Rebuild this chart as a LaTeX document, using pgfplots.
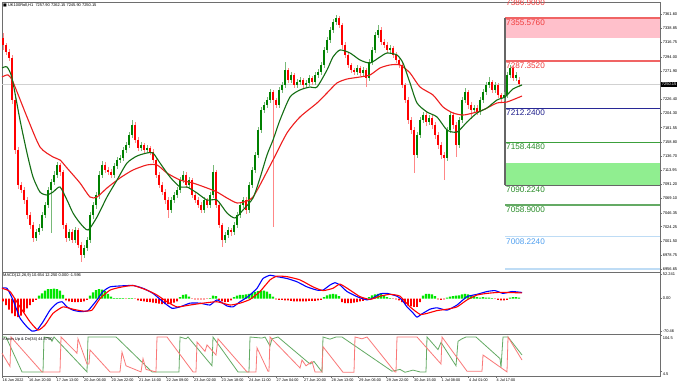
\documentclass[border=0pt]{standalone}
\usepackage{fontspec}
\setmainfont{Liberation Sans}
\newfontfamily\dejavu{DejaVu Sans}
\usepackage{pgfplots}
\pgfplotsset{compat=1.18}
\usepackage{pgfplotstable}

\definecolor{bullG}{RGB}{0,128,0}
\definecolor{bearR}{RGB}{255,0,0}
\definecolor{wickG}{RGB}{120,185,120}
\definecolor{wickR}{RGB}{255,135,135}
\definecolor{maG}{RGB}{20,110,20}
\definecolor{maR}{RGB}{238,30,30}
\definecolor{lvlRed}{RGB}{240,100,100}
\definecolor{lvlPink}{RGB}{255,192,203}
\definecolor{lvlNavy}{RGB}{40,40,150}
\definecolor{lvlGreen}{RGB}{60,160,60}
\definecolor{lvlLGreen}{RGB}{144,238,144}
\definecolor{lvlGreenB}{RGB}{100,170,100}
\definecolor{lvlBlue}{RGB}{190,220,245}
\definecolor{txtRed}{RGB}{240,60,60}
\definecolor{txtNavy}{RGB}{30,30,140}
\definecolor{txtGreen}{RGB}{40,140,40}
\definecolor{txtBlue}{RGB}{80,160,240}
\definecolor{frameC}{RGB}{110,110,110}
\definecolor{histG}{RGB}{0,230,0}
\definecolor{macdB}{RGB}{0,0,255}
\definecolor{aroonG}{RGB}{100,170,100}
\definecolor{aroonR}{RGB}{250,120,120}

\pgfplotstableread{
x o h l c
3 7324.0 7331.9 7305.0 7312.9
6 7312.9 7316.0 7296.5 7301.7
9 7301.7 7306.2 7287.0 7292.2
12 7292.2 7297.5 7220.0 7225.5
15 7225.5 7231.0 7140.0 7146.1
18 7146.1 7150.2 7085.0 7090.5
21 7090.5 7096.0 7077.0 7082.5
24 7082.5 7088.0 7060.0 7066.6
27 7066.6 7072.0 7037.0 7042.8
30 7042.8 7048.0 7021.0 7027.0
33 7027.0 7031.0 6999.9 7006.3
36 7006.3 7021.0 7001.0 7015.8
39 7015.8 7028.0 7011.0 7022.2
42 7022.2 7047.0 7018.0 7042.9
45 7042.9 7064.0 7038.0 7058.7
48 7058.7 7088.0 7054.0 7082.5
51 7082.5 7100.0 7014.2 7095.2
54 7095.2 7112.0 7090.0 7106.4
57 7106.4 7127.0 7101.0 7122.3
60 7122.3 7126.0 7105.0 7111.1
63 7111.1 7115.0 7021.0 7027.0
66 7027.0 7031.0 7000.0 7006.3
69 7006.3 7021.0 7001.0 7015.8
72 7015.8 7020.0 6998.0 7003.1
75 7003.1 7024.0 6998.0 7019.0
78 7019.0 7023.0 6990.0 6995.2
81 6995.2 7000.0 6968.2 6979.3
84 6979.3 6995.0 6974.0 6990.4
87 6990.4 7008.0 6985.0 7003.1
90 7003.1 7048.0 6998.0 7042.9
93 7042.9 7064.0 7037.0 7058.7
96 7058.7 7080.0 7053.0 7074.6
99 7074.6 7112.0 7069.0 7106.4
102 7106.4 7128.0 7101.0 7122.3
105 7122.3 7127.0 7109.0 7114.3
108 7114.3 7119.0 7106.0 7111.1
111 7111.1 7116.0 7101.0 7106.4
114 7106.4 7126.0 7102.0 7120.7
117 7120.7 7135.0 7116.0 7130.2
120 7130.2 7138.0 7126.0 7133.4
123 7133.4 7151.0 7129.0 7146.1
126 7146.1 7159.0 7141.0 7154.0
129 7154.0 7175.0 7149.0 7169.9
132 7169.9 7193.7 7165.0 7185.8
135 7185.8 7190.0 7157.0 7161.9
138 7161.9 7166.0 7144.0 7149.2
141 7149.2 7159.0 7145.0 7154.0
144 7154.0 7158.0 7141.0 7146.1
147 7146.1 7154.0 7142.0 7149.2
150 7149.2 7153.0 7138.0 7142.9
153 7142.9 7147.0 7125.0 7130.2
156 7130.2 7134.0 7101.0 7106.4
159 7106.4 7111.0 7085.0 7090.5
162 7090.5 7095.0 7074.0 7079.3
165 7079.3 7084.0 7061.0 7066.6
168 7066.6 7071.0 7038.1 7050.8
171 7050.8 7071.0 7046.0 7066.6
174 7066.6 7079.0 7062.0 7074.6
177 7074.6 7087.0 7070.0 7082.5
180 7082.5 7103.0 7078.0 7098.4
183 7098.4 7112.0 7094.0 7106.4
186 7106.4 7111.0 7085.0 7090.5
189 7090.5 7103.0 7086.0 7098.4
192 7098.4 7102.0 7070.0 7074.6
195 7074.6 7079.0 7062.0 7066.6
198 7066.6 7071.0 7054.0 7058.7
201 7058.7 7063.0 7046.0 7050.8
204 7050.8 7071.0 7046.0 7066.6
207 7066.6 7070.0 7054.0 7058.7
210 7058.7 7079.0 7054.0 7074.6
213 7074.6 7122.3 7070.0 7111.1
216 7111.1 7115.0 7054.0 7058.7
219 7058.7 7063.0 7022.0 7027.0
222 7027.0 7031.0 6992.0 7003.1
225 7003.1 7016.0 6998.0 7011.0
228 7011.0 7024.0 7006.0 7019.0
231 7019.0 7023.0 7010.0 7015.8
234 7015.8 7032.0 7011.0 7027.0
237 7027.0 7048.0 7022.0 7042.9
240 7042.9 7064.0 7038.0 7058.7
243 7058.7 7071.0 7054.0 7066.6
246 7066.6 7071.0 7045.0 7050.8
249 7050.8 7095.0 7046.0 7090.5
252 7090.5 7119.0 7086.0 7114.3
255 7114.3 7143.0 7110.0 7138.1
258 7138.1 7183.0 7133.0 7177.8
261 7177.8 7214.0 7173.0 7209.6
264 7209.6 7222.0 7205.0 7217.5
267 7217.5 7230.0 7213.0 7225.5
270 7225.5 7243.0 7221.0 7238.2
273 7238.2 7242.0 7023.8 7225.5
276 7225.5 7229.0 7212.0 7217.5
279 7217.5 7246.0 7213.0 7241.4
282 7241.4 7254.0 7237.0 7249.3
285 7249.3 7285.8 7245.0 7273.1
288 7273.1 7277.0 7252.0 7257.2
291 7257.2 7270.0 7253.0 7265.2
294 7265.2 7269.0 7244.0 7249.3
297 7249.3 7259.0 7245.0 7254.1
300 7254.1 7262.0 7250.0 7257.2
303 7257.2 7261.0 7244.0 7249.3
306 7249.3 7257.0 7245.0 7252.5
309 7252.5 7265.0 7248.0 7260.4
312 7260.4 7264.0 7249.0 7254.1
315 7254.1 7270.0 7250.0 7265.2
318 7265.2 7275.0 7261.0 7269.9
321 7269.9 7286.0 7265.0 7281.1
324 7281.1 7310.0 7276.0 7304.9
327 7304.9 7326.0 7300.0 7320.8
330 7320.8 7342.0 7316.0 7336.7
333 7336.7 7354.0 7332.0 7349.4
336 7349.4 7360.5 7345.0 7355.7
339 7355.7 7359.0 7340.0 7344.6
342 7344.6 7348.0 7307.0 7312.8
345 7312.8 7317.0 7292.0 7297.0
348 7297.0 7301.0 7276.0 7281.1
351 7281.1 7285.0 7268.0 7273.1
354 7273.1 7277.0 7265.0 7269.9
357 7269.9 7281.0 7265.0 7276.3
360 7276.3 7280.0 7264.0 7268.4
363 7268.4 7278.0 7264.0 7273.1
366 7273.1 7277.0 7246.1 7260.4
369 7260.4 7290.0 7256.0 7285.8
372 7285.8 7310.0 7281.0 7304.9
375 7304.9 7333.0 7300.0 7328.7
378 7328.7 7344.6 7324.0 7336.7
381 7336.7 7341.0 7313.0 7317.6
384 7317.6 7322.0 7308.0 7312.8
387 7312.8 7317.0 7300.0 7304.9
390 7304.9 7313.0 7300.0 7308.1
393 7308.1 7312.0 7292.0 7297.0
396 7297.0 7301.0 7284.0 7289.0
399 7289.0 7293.0 7276.0 7281.1
402 7281.1 7285.0 7244.0 7249.3
405 7249.3 7253.0 7220.0 7225.5
408 7225.5 7230.0 7188.0 7193.7
411 7193.7 7198.0 7172.0 7177.8
414 7177.8 7182.0 7109.5 7138.1
417 7138.1 7175.0 7133.0 7169.9
420 7169.9 7199.0 7165.0 7193.7
423 7193.7 7207.0 7189.0 7201.6
426 7201.6 7206.0 7185.0 7190.5
429 7190.5 7202.0 7186.0 7196.9
432 7196.9 7201.0 7180.0 7185.8
435 7185.8 7190.0 7164.0 7169.9
438 7169.9 7174.0 7148.0 7154.0
441 7154.0 7158.0 7132.0 7138.1
444 7138.1 7143.0 7098.4 7133.4
447 7133.4 7183.0 7129.0 7177.8
450 7177.8 7207.0 7173.0 7201.6
453 7201.6 7206.0 7180.0 7185.8
456 7185.8 7190.0 7135.0 7154.0
459 7154.0 7199.0 7149.0 7193.7
462 7193.7 7231.0 7189.0 7225.5
465 7225.5 7244.0 7221.0 7238.2
468 7238.2 7242.0 7212.0 7217.5
471 7217.5 7222.0 7195.0 7209.6
474 7209.6 7218.0 7205.0 7212.8
477 7212.8 7217.0 7201.0 7206.4
480 7206.4 7231.0 7202.0 7225.5
483 7225.5 7243.0 7221.0 7238.2
486 7238.2 7254.0 7234.0 7249.3
489 7249.3 7262.0 7245.0 7254.1
492 7254.1 7258.0 7236.0 7241.4
495 7241.4 7254.0 7237.0 7249.3
498 7249.3 7253.0 7228.0 7233.4
501 7233.4 7237.0 7223.0 7228.6
504 7228.6 7238.0 7224.0 7233.4
507 7233.4 7270.0 7229.0 7265.2
510 7265.2 7281.1 7261.0 7276.3
513 7276.3 7280.0 7256.0 7260.4
516 7260.4 7270.0 7256.0 7265.2
519 7257.9 7262.15 7245.9 7250.15
}\candles

\pgfplotsset{
  panel/.style={
    scale only axis, width=658bp, xmin=2, xmax=660,
    anchor=south west, clip=false,
    axis line style={draw=frameC, line width=0.9bp},
    ytick pos=right, yticklabel pos=right,
    tick align=outside, major tick length=2bp,
    tick style={draw=frameC, line width=0.4bp},
    yticklabel style={font=\fontsize{4}{5}\selectfont, inner sep=0.6bp, text=black},
    xtick=\empty,
  },
  candle/.style n args={2}{draw=none, mark=none,
    error bars/y dir=both, error bars/y explicit, error bars/error mark=none,
    error bars/error bar style={line width=#1, draw=#2, solid}},
}

\begin{document}
\begin{tikzpicture}
\path[use as bounding box, fill=white] (0,0) rectangle (680bp,385bp);

% ---------------- price panel ----------------
\begin{axis}[panel, at={(2bp,113bp)}, height=270bp,
  ymin=6952.3, ymax=7381.1,
  ytick={7361.60,7338.85,7316.75,7294.00,7271.90,7226.40,7204.30,7181.55,7158.80,7136.70,7113.95,7091.20,7069.10,7046.35,7024.25,7001.50,6978.75,6956.65},
  yticklabels={7361.60,7338.85,7316.75,7294.00,7271.90,7226.40,7204.30,7181.55,7158.80,7136.70,7113.95,7091.20,7069.10,7046.35,7024.25,7001.50,6978.75,6956.65},
]
% current price line
\addplot[color=black!18, line width=0.6bp] coordinates {(2,7250.15) (660,7250.15)};
% level zones
\addplot[fill=lvlPink, draw=none] coordinates {(505,7323.5) (660,7323.5) (660,7355.576) (505,7355.576)} -- cycle;
\addplot[fill=lvlLGreen, draw=none] coordinates {(505,7090.224) (660,7090.224) (660,7124.9) (505,7124.9)} -- cycle;
\addplot[color=lvlRed, line width=1.4bp] coordinates {(505,7355.576) (660,7355.576)};
\addplot[color=lvlRed, line width=1.4bp] coordinates {(505,7287.352) (660,7287.352)};
\addplot[color=lvlNavy, line width=1bp] coordinates {(505,7212.24) (660,7212.24)};
\addplot[color=lvlGreen, line width=1bp] coordinates {(505,7158.448) (660,7158.448)};
\addplot[color=black!60, line width=1.2bp] coordinates {(505,7090.224) (660,7090.224)};
\addplot[color=lvlGreenB, line width=1.4bp] coordinates {(505,7058.9) (660,7058.9)};
\addplot[color=lvlBlue, line width=1.4bp] coordinates {(505,7008.224) (660,7008.224)};
\addplot[color=lvlBlue, line width=1.4bp] coordinates {(505,6957.0) (660,6957.0)};
\addplot[color=black!60, line width=1.2bp] coordinates {(505,7090.224) (505,7355.576)};

% candles: wicks
\addplot[restrict expr to domain={\thisrow{c}-\thisrow{o}}{0:100000}, candle={0.8bp}{wickG}]
  table[x=x, y expr={(\thisrow{h}+\thisrow{l})/2}, y error expr={(\thisrow{h}-\thisrow{l})/2}] {\candles};
\addplot[restrict expr to domain={\thisrow{c}-\thisrow{o}}{-100000:-0.0001}, candle={0.8bp}{wickR}]
  table[x=x, y expr={(\thisrow{h}+\thisrow{l})/2}, y error expr={(\thisrow{h}-\thisrow{l})/2}] {\candles};
% candles: bodies
\addplot[restrict expr to domain={\thisrow{c}-\thisrow{o}}{0:100000}, candle={2.5bp}{bullG}]
  table[x=x, y expr={(\thisrow{o}+\thisrow{c})/2}, y error expr={abs(\thisrow{c}-\thisrow{o})/2}] {\candles};
\addplot[restrict expr to domain={\thisrow{c}-\thisrow{o}}{-100000:-0.0001}, candle={2.5bp}{bearR}]
  table[x=x, y expr={(\thisrow{o}+\thisrow{c})/2}, y error expr={abs(\thisrow{c}-\thisrow{o})/2}] {\candles};

% moving averages
\addplot[color=maR, line width=1.1bp, smooth, tension=0.4] coordinates {
(2,7262.0) (8,7265.2) (13,7254.1) (27,7198.5) (40,7150.8) (53,7135.0) (60,7130.2) (67,7117.5) (80,7093.6) (90,7071.4) (97,7071.4) (107,7085.7) (120,7101.6) (133,7114.3) (147,7122.3) (157,7122.3) (167,7109.5) (180,7098.4) (193,7093.6) (207,7085.7) (217,7079.3) (227,7069.8) (237,7061.9) (247,7065.0) (253,7071.4) (260,7090.5) (273,7130.2) (287,7173.1) (300,7198.5) (317,7220.7) (327,7236.6) (337,7252.5) (347,7258.8) (360,7262.0) (370,7265.2) (380,7276.3) (390,7281.1) (400,7281.1) (410,7268.4) (420,7246.1) (433,7233.4) (443,7214.4) (453,7204.8) (463,7201.6) (473,7204.8) (483,7209.6) (497,7220.7) (507,7222.3) (522,7231.8)};
\addplot[color=maG, line width=1.1bp, smooth, tension=0.4] coordinates {
(2,7276.3) (7,7277.9) (12,7260.4) (20,7193.7) (27,7141.3) (33,7103.2) (40,7079.3) (47,7074.6) (53,7079.3) (60,7087.3) (67,7066.6) (73,7046.0) (80,7030.1) (88,7019.0) (97,7039.6) (107,7071.4) (117,7098.4) (127,7125.4) (137,7136.5) (147,7141.3) (153,7141.3) (160,7125.4) (170,7103.2) (180,7087.3) (187,7087.3) (197,7077.8) (207,7066.6) (217,7066.6) (227,7046.0) (235,7038.1) (243,7050.8) (253,7069.8) (260,7101.6) (267,7138.1) (273,7161.9) (280,7193.7) (290,7230.2) (300,7241.4) (310,7246.1) (317,7246.1) (327,7273.1) (333,7293.8) (340,7304.9) (350,7300.1) (360,7289.0) (370,7284.2) (380,7293.8) (387,7300.1) (397,7296.9) (403,7284.2) (410,7252.5) (417,7220.7) (427,7206.4) (437,7198.5) (447,7177.8) (457,7174.6) (467,7190.5) (477,7204.8) (487,7212.8) (497,7225.5) (505,7230.2) (513,7243.0) (522,7249.3)};

% level labels
\begin{scope}[every node/.style={anchor=north west, inner sep=0pt, font=\fontsize{8.2}{9}\selectfont, yshift=-1.6bp}]
\node[text=txtRed] at (axis cs:506,7386.9) {7386.9000};
\node[text=txtRed] at (axis cs:506,7355.576) {7355.5760};
\node[text=txtRed] at (axis cs:506,7287.352) {7287.3520};
\node[text=txtNavy] at (axis cs:506,7212.24) {7212.2400};
\node[text=txtGreen] at (axis cs:506,7158.448) {7158.4480};
\node[text=txtGreen] at (axis cs:506,7090.224) {7090.2240};
\node[text=txtGreen] at (axis cs:506,7058.9) {7058.9000};
\node[text=txtBlue] at (axis cs:506,7008.224) {7008.2240};
\end{scope}
\node[anchor=west, inner sep=0pt, font=\fontsize{4}{5}\selectfont] at (axis cs:3,7376.3) {{\dejavu ■}\ UK100Roll,H1\ \ 7257.90 7262.15 7245.90 7250.15};
\node[anchor=west, fill=black, text=white, inner sep=0.7bp, font=\fontsize{4}{5}\selectfont] at (axis cs:661,7250.15) {7250.15};
\end{axis}

% ---------------- MACD panel ----------------
\begin{axis}[panel, at={(2bp,51bp)}, height=62bp,
  ymin=-76.3, ymax=57.0,
  ytick={52.24,0,-70.46}, yticklabels={52.241,0.00,-70.46},
]
\addplot[ybar, bar width=2.3bp, bar shift=0pt, fill=histG, draw=none] coordinates {
(39,6) (42,11) (45,17) (48,20) (51,20) (54,21) (57,20) (60,17) (63,8) (90,6) (93,13) (96,18) (99,20) (102,19) (105,16) (108,10) (111,4) (114,1) (117,1) (120,1) (123,1) (129,1) (132,1) (180,3) (183,8) (186,9) (189,4) (210,1) (213,6) (216,5) (234,3) (237,6) (240,8) (243,8) (246,9) (249,10) (252,12) (255,14) (258,16) (261,17) (264,17) (267,15) (270,10) (273,4) (324,3) (327,7) (330,9) (333,10) (336,9) (339,5) (369,3) (372,7) (375,9) (378,10) (381,10) (384,7) (387,3) (390,1) (423,6) (426,10) (429,10) (432,9) (435,5) (447,2) (450,4) (453,5) (456,6) (459,7) (462,9) (465,10) (468,9) (471,7) (474,5) (477,3) (480,2) (483,3) (486,2) (489,2) (492,1) (510,2) (513,3) (516,3) (519,2)};
\addplot[ybar, bar width=1.6bp, bar shift=0pt, fill=bearR, draw=none] coordinates {
(3,-6) (6,-14) (9,-24) (12,-32) (15,-38) (18,-40) (21,-37) (24,-30) (27,-21) (30,-14) (33,-7) (36,-3) (66,-4) (69,-6) (72,-7) (75,-8) (78,-8) (81,-7) (84,-6) (87,-3) (126,-1) (135,-1) (138,-4) (141,-5) (144,-6) (147,-7) (150,-8) (153,-9) (156,-10) (159,-11) (162,-12) (165,-12) (168,-12) (171,-11) (174,-9) (177,-6) (192,-1) (195,-2) (198,-2) (201,-2) (204,-2) (207,-1) (219,-3) (222,-6) (225,-8) (228,-7) (231,-4) (276,-2) (279,-3) (282,-3) (285,-4) (288,-4) (291,-5) (294,-6) (297,-6) (300,-6) (303,-6) (306,-6) (309,-5) (312,-5) (315,-5) (318,-4) (321,-3) (342,-8) (345,-10) (348,-10) (351,-10) (354,-9) (357,-8) (360,-6) (363,-5) (366,-3) (393,-1) (396,-2) (399,-4) (402,-8) (405,-12) (408,-15) (411,-17) (414,-18) (417,-18) (420,-8) (438,-2) (441,-3) (444,-2) (495,-1) (498,-3) (501,-4) (504,-4) (507,-3)};
\addplot[color=macdB, line width=1.1bp, smooth, tension=0.3] coordinates {
(2,22) (7,22) (13,-3) (20,-42) (27,-61) (32,-70) (37,-68) (43,-50) (50,-25) (57,-10) (62,-7) (67,-18) (73,-25) (80,-28) (88,-26) (97,-3) (103,15) (110,25) (120,27) (133,28) (143,22) (153,11) (163,-7) (172,-21) (180,-18) (190,-10) (200,-10) (210,-14) (217,-3) (227,-16) (233,-18) (240,-7) (248,4) (257,22) (263,43) (270,50) (277,47) (287,43) (297,36) (307,25) (317,18) (323,18) (330,29) (335,34) (340,29) (347,15) (357,4) (367,-3) (373,1) (380,10) (387,11) (397,5) (402,-3) (407,-18) (413,-31) (417,-40) (422,-33) (430,-23) (437,-20) (447,-25) (457,-14) (467,4) (477,9) (487,15) (495,17) (503,11) (512,15) (522,13)};
\addplot[color=bearR, line width=1.1bp, smooth, tension=0.3] coordinates {
(2,22) (10,15) (20,-18) (30,-50) (38,-68) (45,-57) (53,-32) (63,-18) (73,-23) (83,-27) (92,-25) (100,0) (110,18) (120,24) (133,28) (147,18) (157,7.5) (167,-7) (177,-18) (190,-14) (203,-10) (217,-7) (230,-14) (240,-10) (250,-2) (260,15) (270,40) (277,48) (287,47) (300,40) (313,25) (323,17) (333,22) (340,31) (350,18) (360,4) (370,-2) (380,5) (390,9) (400,5) (410,-18) (420,-34) (427,-32) (437,-26) (447,-23) (457,-18) (467,-3) (477,7.5) (487,11) (497,13) (507,13) (522,12)};
\node[anchor=west, inner sep=0pt, font=\fontsize{4}{5}\selectfont] at (axis cs:3,49.5) {MACD(12,26,9) 10.654 12.250 0.000 -1.596};
\end{axis}

% ---------------- Aroon panel ----------------
\begin{axis}[panel, at={(2bp,9bp)}, height=42bp,
  ymin=-8.33, ymax=108.33,
  ytick={104.5,4.5}, yticklabels={104.5,4.5},
  yticklabel style={yshift=-2.5bp},
  xtick={2,28.5,56,83.5,111,138.5,166,193.5,221,248.5,276,303.5,331,358.5,386,413.5,441,468.5,496},
  xticklabels={16 Jun 2022,16 Jun 20:00,17 Jun 13:00,20 Jun 06:00,20 Jun 22:00,21 Jun 14:00,22 Jun 09:00,23 Jun 02:00,23 Jun 18:00,24 Jun 11:00,27 Jun 04:00,27 Jun 20:00,28 Jun 13:00,29 Jun 06:00,29 Jun 22:00,30 Jun 15:00,1 Jul 08:00,4 Jul 01:00,4 Jul 17:00},
  xtick pos=lower,
  xticklabel style={anchor=north west, font=\fontsize{3.8}{4.5}\selectfont, inner sep=0.5bp, text=black},
]
\addplot[color=aroonG, line width=0.8bp] coordinates {
(2,100) (6,100) (22,3) (43,3) (44,100) (50,97) (52,88) (54,100) (87,3) (88,100) (116,100) (118,95) (152,3) (179,3) (180,100) (186,95) (188,100) (212,20) (213,100) (238,3) (249,3) (250,100) (262,97) (265,100) (270,75) (272,95) (278,100) (310,25) (314,32) (322,3) (323,100) (330,94) (336,100) (342,100) (392,5) (400,10) (405,2) (413,8) (420,3) (426,3) (427,100) (438,65) (441,85) (456,20) (458,88) (462,95) (466,100) (476,100) (500,40) (501,15) (503,100) (508,100) (522,50)};
\addplot[color=aroonR, line width=0.8bp] coordinates {
(2,55) (10,18) (11,100) (42,3) (60,3) (61,100) (77,55) (78,95) (87,25) (89,25) (90,64) (110,3) (120,3) (122,58) (126,20) (141,3) (143,40) (146,10) (156,3) (157,100) (167,100) (193,3) (196,3) (197,86) (205,60) (207,78) (216,50) (218,95) (247,3) (256,3) (257,70) (268,5) (269,5) (270,100) (300,14) (302,36) (306,20) (312,32) (315,3) (322,3) (323,73) (343,2) (354,2) (355,100) (362,95) (367,100) (395,3) (396,3) (397,100) (417,100) (441,25) (442,100) (467,5) (482,5) (483,50) (507,3) (508,100) (522,36)};
\node[anchor=west, inner sep=0pt, font=\fontsize{4}{5}\selectfont] at (axis cs:3,94) {Aroon Up \& Dn(34) 44.8750};
\end{axis}
\end{tikzpicture}
\end{document}
